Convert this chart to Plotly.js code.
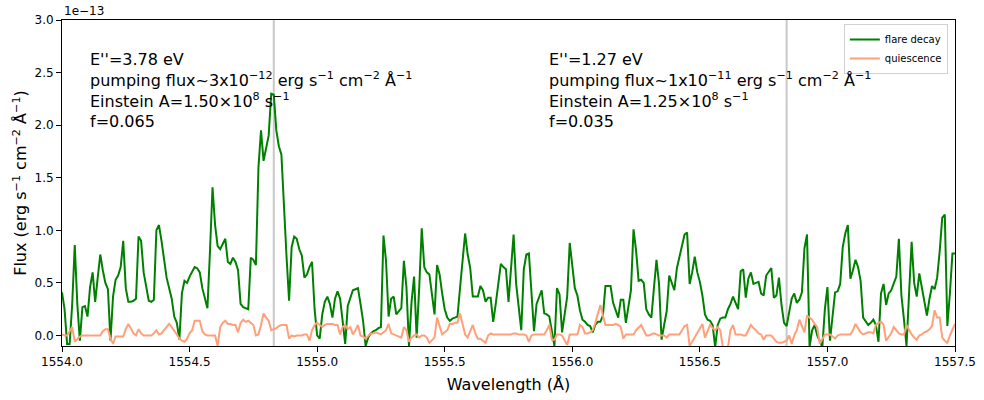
<!DOCTYPE html>
<html>
<head>
<meta charset="utf-8">
<script src="https://cdn.plot.ly/plotly-3.0.1.min.js"></script>
<style>
    body { margin: 0; background: #fff; }
    #chart { width: 984px; height: 400px; }
</style>
</head>
<body>
<div id="chart"></div>
<script>
// wavelength grid (Å): start and step
const waveStart = 1554.0;
const waveStep = 0.01;

// flux in units of 1e-13 erg s^-1 cm^-2 Å^-1
const flareDecay = [
    0.41, 0.25, -0.08, -0.08, 0.30, 0.86, 0.30, -0.05, 0.27, 0.28,
    0.18, 0.46, 0.60, 0.32, 0.55, 0.77, 0.62, 0.50, 0.44, -0.05,
    0.37, 0.53, 0.57, 0.65, 0.90, 0.45, 0.32, 0.32, 0.33, 0.35,
    0.94, 0.90, 0.60, 0.45, 0.33, 0.32, 0.34, 1.00, 1.05, 0.90,
    0.70, 0.55, 0.45, 0.35, 0.18, 0.12, -0.04, 0.40, 0.52, 0.50,
    0.56, 0.60, 0.65, 0.64, 0.60, 0.45, 0.35, 0.26, 0.80, 1.41,
    1.05, 0.85, 0.82, 0.87, 0.92, 0.70, 0.68, 0.74, 0.70, 0.62,
    0.30, 0.27, 0.26, 0.25, 0.74, 0.72, 0.67, 1.60, 1.95, 1.66,
    1.78, 1.90, 2.30, 2.29, 1.95, 1.80, 1.72, 1.20, 0.75, 0.33,
    0.84, 0.94, 0.92, 0.82, 0.76, 0.55, 0.58, 0.65, 0.70, 0.25,
    0.00, -0.03, 0.20, 0.32, 0.37, 0.30, 0.17, 0.35, 0.42, 0.35,
    0.15, -0.08, 0.28, 0.35, 0.43, 0.44, 0.45, 0.30, 0.14, -0.10,
    -0.02, 0.02, 0.04, 0.05, 0.07, 0.08, 0.95, 0.71, 0.18, 0.35,
    0.37, 0.20, 0.23, 0.26, 0.71, 0.46, -0.10, 0.32, 0.56, -0.02,
    0.45, 1.02, 0.65, 0.60, 0.58, 0.40, 0.20, 0.67, 0.58, 0.40,
    0.25, 0.17, 0.14, 0.16, 0.17, 0.18, 0.45, 0.72, 0.97, 0.77,
    0.64, 0.37, 0.37, 0.37, 0.47, 0.43, 0.32, 0.36, 0.36, 0.13,
    0.30, 0.49, 0.68, 0.65, 0.63, 0.32, 0.65, 0.96, 0.49, 0.25,
    0.05, 0.63, 0.77, 0.78, 0.40, 0.04, 0.30, 0.36, 0.43, 0.21,
    0.20, 0.18, 0.05, -0.10, 0.45, 0.39, 0.03, 0.20, 0.37, 0.88,
    0.65, 0.45, 0.38, 0.24, 0.15, 0.13, 0.10, 0.09, 0.03, 0.10,
    0.13, 0.13, 0.19, 0.47, 0.47, 0.47, 0.31, 0.24, 0.17, 0.34,
    0.34, 0.12, 0.28, 0.43, 1.01, 0.81, 0.52, 0.53, 0.50, 0.25,
    0.20, 0.17, 0.45, 0.72, 0.49, -0.04, 0.10, 0.23, 0.57, 0.50,
    0.43, 0.64, 0.75, 0.85, 0.96, 0.98, 0.49, 0.60, 0.75, 0.60,
    0.51, 0.38, 0.20, 0.15, 0.14, 0.10, -0.11, 0.10, 0.16, 0.17,
    0.17, 0.25, 0.30, 0.37, 0.30, 0.25, 0.61, 0.63, 0.36, 0.54,
    0.60, 0.49, 0.50, 0.51, 0.40, 0.38, 0.57, 0.60, 0.64, 0.36,
    0.38, 0.55, 0.29, 0.12, 0.09, 0.22, 0.35, 0.40, 0.31, 0.34,
    0.41, 0.83, 0.96, -0.11, 0.05, 0.10, 0.00, -0.05, -0.11, 0.25,
    0.46, -0.05, 0.21, 0.41, 0.42, 0.49, 0.84, 0.97, 1.05, 0.54,
    0.62, 0.72, 0.65, 0.52, 0.17, 0.14, 0.10, 0.12, 0.15, 0.10,
    -0.06, 0.40, 0.49, 0.29, 0.40, 0.43, 0.50, 0.56, 0.92, 0.38,
    0.15, -0.10, 0.40, 0.89, 0.50, 0.37, 0.59, 0.46, 0.30, 0.19,
    0.35, 0.47, 0.44, 0.55, 0.80, 1.12, 1.15, 0.09, 0.40, 0.78,
    0.78
];

const quiescence = [
    0.01, 0.00, 0.00, 0.04, 0.08, -0.06, -0.03, -0.01, 0.00, 0.00,
    0.00, 0.00, 0.00, 0.00, 0.00, 0.00, 0.04, 0.06, 0.06, -0.03,
    -0.08, -0.01, -0.01, -0.01, -0.01, 0.06, 0.11, 0.07, 0.02, 0.00,
    0.06, 0.02, 0.00, 0.00, 0.00, 0.00, 0.02, 0.05, 0.01, 0.02,
    0.05, 0.08, 0.11, 0.08, 0.05, 0.01, -0.03, -0.05, -0.06, -0.03,
    0.02, 0.05, 0.14, 0.14, 0.14, 0.04, 0.01, 0.00, 0.00, 0.00,
    0.00, -0.10, 0.08, 0.12, 0.14, 0.11, 0.11, 0.10, 0.10, 0.03,
    0.12, 0.15, 0.13, 0.14, 0.12, 0.10, 0.00, 0.01, 0.10, 0.21,
    0.17, 0.14, 0.05, 0.06, 0.07, 0.09, 0.10, 0.10, 0.10, -0.03,
    0.00, -0.01, 0.00, 0.00, 0.00, 0.01, 0.01, -0.05, 0.05, 0.10,
    0.12, 0.10, 0.08, 0.10, 0.11, 0.11, 0.11, 0.10, 0.10, 0.01,
    0.08, 0.10, 0.06, 0.08, 0.01, 0.05, 0.10, 0.00, -0.01, -0.03,
    0.00, 0.02, 0.02, 0.03, 0.02, 0.01, 0.03, 0.05, 0.11, 0.02,
    0.01, 0.00, -0.01, -0.02, 0.08, 0.05, -0.06, -0.02, 0.00, 0.01,
    -0.02, 0.00, 0.00, -0.02, -0.07, -0.04, -0.02, 0.17, 0.08, 0.01,
    0.03, 0.05, 0.11, 0.11, 0.12, 0.12, 0.21, 0.11, 0.01, -0.02,
    0.05, 0.10, 0.02, -0.03, -0.03, -0.05, -0.07, 0.00, 0.02, 0.01,
    0.01, 0.01, 0.01, 0.01, 0.01, 0.01, 0.01, 0.02, 0.02, 0.01,
    0.01, 0.01, 0.00, -0.06, 0.00, 0.01, 0.01, 0.01, 0.01, 0.01,
    0.05, 0.10, -0.04, -0.04, 0.01, 0.01, 0.00, -0.04, -0.09, 0.01,
    0.01, 0.01, 0.01, 0.10, 0.08, 0.02, 0.02, 0.03, 0.05, 0.12,
    0.20, 0.29, 0.19, 0.10, 0.10, 0.10, 0.10, 0.11, 0.10, 0.08,
    -0.03, 0.01, 0.01, 0.01, 0.01, 0.05, 0.08, 0.10, 0.05, 0.00,
    0.00, 0.01, 0.02, 0.01, 0.00, 0.00, 0.00, -0.02, 0.01, 0.01,
    0.01, 0.01, 0.01, 0.05, 0.09, 0.10, -0.10, -0.06, -0.02, 0.03,
    0.07, 0.11, -0.02, 0.05, 0.10, 0.07, 0.05, 0.08, 0.05, -0.11,
    -0.11, -0.11, 0.05, 0.10, 0.01, 0.01, 0.01, 0.00, 0.00, 0.05,
    0.10, 0.07, 0.05, 0.02, 0.01, -0.04, 0.00, 0.00, 0.00, -0.03,
    -0.06, -0.07, -0.07, -0.06, -0.05, 0.00, -0.08, 0.00, 0.05, 0.15,
    0.08, 0.03, 0.19, 0.17, 0.15, 0.11, 0.08, -0.08, -0.03, 0.01,
    0.01, 0.01, -0.01, -0.03, 0.00, 0.01, 0.01, 0.01, 0.01, 0.01,
    0.05, 0.11, 0.07, 0.03, 0.01, 0.02, 0.03, 0.03, 0.02, 0.10,
    0.12, 0.13, 0.10, -0.05, -0.02, 0.02, 0.08, 0.05, 0.02, 0.01,
    0.01, 0.10, 0.05, 0.01, -0.02, -0.04, 0.00, 0.01, 0.03, 0.04,
    0.06, 0.09, 0.24, 0.17, 0.17, -0.02, -0.05, -0.07, 0.00, 0.05,
    0.11
];

// rest wavelengths of the two lines (Å)
const lineWaves = [1554.83, 1556.84];

const xTicks = [1554.0, 1554.5, 1555.0, 1555.5, 1556.0, 1556.5, 1557.0, 1557.5];
const yTicks = [0.0, 0.5, 1.0, 1.5, 2.0, 2.5, 3.0];

const lineNotes = [
    ['E\'\'=3.78 eV', 'pumping flux~3x10<sup>−12</sup> erg s<sup>−1</sup> cm<sup>−2</sup> Å<sup>−1</sup>',
     'Einstein A=1.50×10<sup>8</sup> s<sup>−1</sup>', 'f=0.065'],
    ['E\'\'=1.27 eV', 'pumping flux~1x10<sup>−11</sup> erg s<sup>−1</sup> cm<sup>−2</sup> Å<sup>−1</sup>',
     'Einstein A=1.25×10<sup>8</sup> s<sup>−1</sup>', 'f=0.035']
];
const noteX = [1554.1, 1555.9];

const font = 'DejaVu Sans, sans-serif';

const traces = [
    {
        y: flareDecay, x0: waveStart, dx: waveStep,
        type: 'scatter', mode: 'lines', name: 'flare decay',
        line: { color: 'green', width: 2 }
    },
    {
        y: quiescence, x0: waveStart, dx: waveStep,
        type: 'scatter', mode: 'lines', name: 'quiescence',
        line: { color: '#ffa07a', width: 2 }
    }
];

const shapes = lineWaves.map(w => ({
    type: 'line', xref: 'x', yref: 'paper',
    x0: w, x1: w, y0: 0, y1: 1,
    line: { color: '#c8c8c8', width: 2 },
    layer: 'below'
}));

const annotations = lineNotes.map((lines, i) => ({
    xref: 'x', yref: 'y', x: noteX[i], y: 2.735,
    xanchor: 'left', yanchor: 'top', align: 'left',
    text: lines.join('<br>'), showarrow: false,
    font: { family: font, size: 16, color: 'black' }
}));
// offset text of the y axis
annotations.push({
    xref: 'paper', yref: 'paper', x: 0, y: 1,
    xanchor: 'left', yanchor: 'bottom', yshift: 0,
    text: '1e−13', showarrow: false,
    font: { family: font, size: 12, color: 'black' }
});

const axisCommon = {
    showgrid: false, zeroline: false,
    showline: true, mirror: true, linecolor: 'black', linewidth: 1,
    ticks: 'outside', ticklen: 5, tickcolor: 'black',
    tickfont: { family: font, size: 12, color: 'black' },
    fixedrange: true
};

Plotly.newPlot('chart', traces, {
    width: 984, height: 400,
    margin: { l: 62, r: 29, t: 20, b: 54 },
    paper_bgcolor: 'white', plot_bgcolor: 'white',
    font: { family: font, color: 'black' },
    showlegend: true,
    legend: {
        x: 0.992, y: 0.988, xanchor: 'right', yanchor: 'top',
        bgcolor: 'white', bordercolor: '#d0d0d0', borderwidth: 1,
        font: { family: font, size: 10 }
    },
    xaxis: Object.assign({}, axisCommon, {
        range: [1554.0, 1557.5],
        tickvals: xTicks, ticktext: xTicks.map(v => v.toFixed(1)),
        title: { text: 'Wavelength (Å)', font: { family: font, size: 16 }, standoff: 10 }
    }),
    yaxis: Object.assign({}, axisCommon, {
        range: [-0.1, 3.0],
        tickvals: yTicks, ticktext: yTicks.map(v => v.toFixed(1)),
        title: { text: 'Flux (erg s<sup>−1</sup> cm<sup>−2</sup> Å<sup>−1</sup>)', font: { family: font, size: 16 }, standoff: 3 }
    }),
    shapes: shapes,
    annotations: annotations
}, { displayModeBar: false, staticPlot: true });
</script>
</body>
</html>
